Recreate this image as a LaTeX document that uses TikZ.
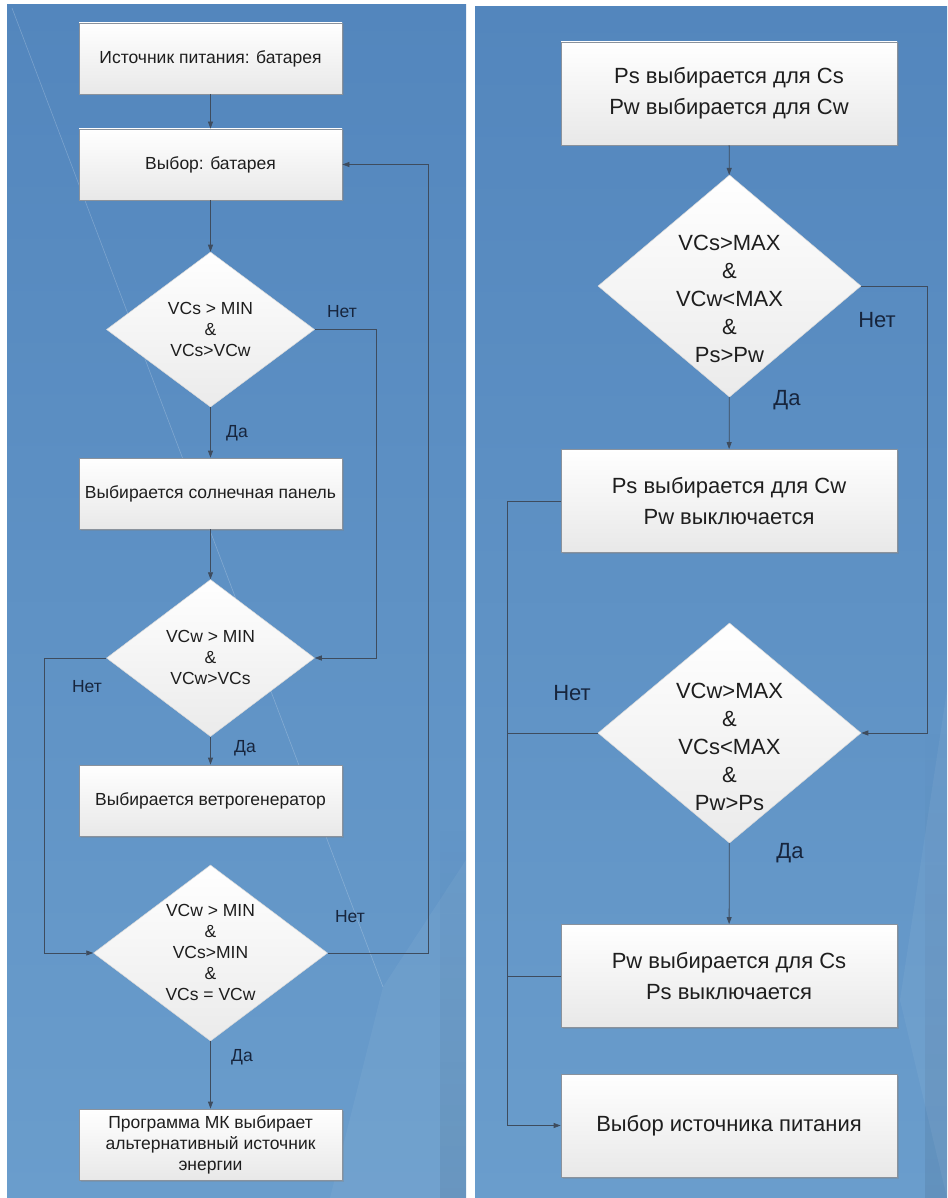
\documentclass[tikz,border=0pt]{standalone}
\usepackage{fontspec}
\setmainfont{Liberation Sans}
\usetikzlibrary{shapes.geometric,arrows.meta,shadows,fadings}
\definecolor{bgtop}{HTML}{5386BD}
\definecolor{bgbot}{HTML}{6A9DCC}
\definecolor{linec}{HTML}{3E4C5E}
\definecolor{txt}{HTML}{1E1E1E}
\definecolor{lbl}{HTML}{17253D}
\definecolor{boxbd}{HTML}{8A929C}
\newcommand\dtext[2][0pt]{\smash{\makebox[0pt]{\raisebox{#1}{\begin{tabular}{@{}c@{}}#2\end{tabular}}}}}
\begin{document}
\begin{tikzpicture}[x=1pt,y=-1pt,
 pbox/.style={rectangle, draw=boxbd, line width=0.8pt, top color=white, bottom color=black!9,
   drop shadow={shadow xshift=1.5pt,shadow yshift=-1.5pt,opacity=0.3}, text=txt, align=center, inner sep=0pt},
 lbox/.style={pbox, minimum width=263pt, minimum height=71pt, font=\fontsize{17.5}{21}\selectfont},
 rbox/.style={pbox, minimum width=336pt, minimum height=103pt, font=\fontsize{22}{31}\selectfont},
 dia/.style={diamond, draw=black!15, line width=0.5pt, top color=white, bottom color=black!8, inner sep=0pt, text=txt},
 ldia/.style={dia, font=\fontsize{17.5}{21}\selectfont},
 rdia/.style={dia, minimum width=263pt, minimum height=222pt, font=\fontsize{22}{28}\selectfont},
 conn/.style={draw=linec, line width=0.8pt},
 arr/.style={conn, -{Triangle[length=7pt,width=5pt]}},
 lab/.style={text=lbl, inner sep=0pt},
 llab/.style={lab, font=\fontsize{17.5}{20}\selectfont},
 rlab/.style={lab, font=\fontsize{22}{26}\selectfont},
]
\useasboundingbox (0,0) rectangle (947,1198);
\fill[white] (0,0) rectangle (947,1198);
% panels
\shade[top color=bgtop, bottom color=bgbot] (7,5) rectangle (466,1198);
\shade[top color=bgtop, bottom color=bgbot] (475,7) rectangle (947,1198);
% subtle decoration
\draw[white, opacity=0.22, line width=0.6pt] (12,8) -- (383,987);
\fill[white, opacity=0.05] (383,987) -- (466,860) -- (466,1198) -- (330,1198) -- cycle;
\fill[black, opacity=0.07, path fading=north] (440,820) rectangle (466,1198);
\fill[black, opacity=0.07, path fading=north] (925,720) rectangle (947,1198);
\fill[white, opacity=0.05] (947,690) -- (900,1000) -- (947,1198) -- cycle;

% ---------------- left flowchart
\node[lbox] (L1) at (210.5,58.5) {Источник питания: батарея};
\node[lbox] (L2) at (210.5,164.5) {Выбор: батарея};
\node[ldia, minimum width=208pt, minimum height=155pt] (D1) at (210.5,329.5)
  {\dtext[-6pt]{VCs > MIN\\\&\\VCs>VCw}};
\node[lbox] (L3) at (210.5,493.5) {Выбирается солнечная панель};
\node[ldia, minimum width=208pt, minimum height=157pt] (D2) at (210.5,658)
  {\dtext[-6pt]{VCw > MIN\\\&\\VCw>VCs}};
\node[lbox] (L4) at (210.5,800.5) {Выбирается ветрогенератор};
\node[ldia, minimum width=234pt, minimum height=176pt] (D3) at (210.5,953)
  {\dtext[-6pt]{VCw > MIN\\\&\\VCs>MIN\\\&\\VCs = VCw}};
\node[lbox] (L5) at (210.5,1144.5) {Программа МК выбирает\\альтернативный источник\\энергии};

\draw[arr] (L1) -- (L2);
\draw[arr] (L2) -- (D1);
\draw[arr] (D1) -- (L3);
\draw[arr] (L3) -- (D2);
\draw[arr] (D2) -- (L4);
\draw[arr] (D3) -- (L5);
\draw[arr] (D1.east) -- ++(62,0) |- (D2.east);
\draw[arr] (D2.west) -- ++(-62,0) |- (D3.west);
\draw[arr] (D3.east) -- ++(101,0) |- (L2.east);

\node[llab] (n1) at (342,312) {Нет};
\node[llab] (y1) at (237,433) {Да};
\node[llab] (n2) at (87,687) {Нет};
\node[llab] (y2) at (245,748) {Да};
\node[llab] (n3) at (350,917) {Нет};
\node[llab] (y3) at (242,1057) {Да};

% ---------------- right flowchart
\node[rbox] (R1) at (729,93.5) {Ps выбирается для Cs\\Pw выбирается для Cw};
\node[rdia] (RD1) at (729.5,286) {\dtext[-20pt]{VCs>MAX\\\&\\VCw<MAX\\\&\\Ps>Pw}};
\node[rbox] (R2) at (729,501) {Ps выбирается для Cw\\Pw выключается};
\node[rdia, minimum height=220pt] (RD2) at (729.5,733) {\dtext[-21pt]{VCw>MAX\\\&\\VCs<MAX\\\&\\Pw>Ps}};
\node[rbox] (R3) at (729,976) {Pw выбирается для Cs\\Ps выключается};
\node[rbox] (R4) at (729,1125.5) {Выбор источника питания};

\draw[arr] (R1) -- (RD1);
\draw[arr] (RD1) -- (R2);
\draw[arr] (RD2) -- (R3);
\draw[arr] (RD1.east) -- ++(66,0) |- (RD2.east);
\draw[arr] (R2.west) -- ++(-53,0) |- (R4.west);
\draw[conn] (RD2.west) -- ++(-90,0);
\draw[conn] (R3.west) -- ++(-53,0);

\node[rlab] (rn1) at (877,320) {Нет};
\node[rlab] (ry1) at (787,400) {Да};
\node[rlab] (rn2) at (572,693) {Нет};
\node[rlab] (ry2) at (790,853) {Да};
\end{tikzpicture}
\end{document}
